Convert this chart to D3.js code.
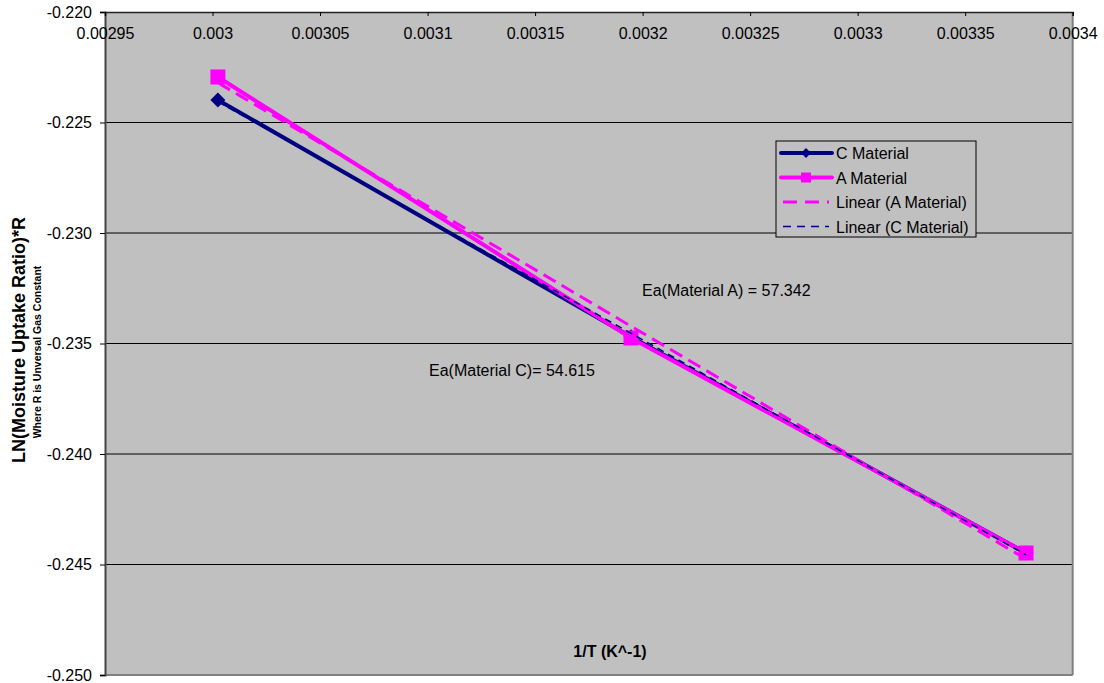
<!DOCTYPE html>
<html><head><meta charset="utf-8">
<script src="https://cdn.jsdelivr.net/npm/d3@7"></script>
<style>
body{margin:0;background:#fff;}
text{font-family:"Liberation Sans",Arial,sans-serif;}
</style></head>
<body>
<svg id="chart" width="1104" height="683"></svg>
<script>
const xTicks = [0.00295,0.003,0.00305,0.0031,0.00315,0.0032,0.00325,0.0033,0.00335,0.0034];
const xTickLabels = ["0.00295","0.003","0.00305","0.0031","0.00315","0.0032","0.00325","0.0033","0.00335","0.0034"];
const yTicks = [-0.220,-0.225,-0.230,-0.235,-0.240,-0.245,-0.250];
const yTickLabels = ["-0.220","-0.225","-0.230","-0.235","-0.240","-0.245","-0.250"];
const cX = [0.0030025, 0.0031946, 0.0033783];
const cY = [-0.22398, -0.23470, -0.24448];
const aX = [0.0030025, 0.0031946, 0.0033783];
const aY = [-0.22294, -0.23475, -0.24448];
const annotations = ["Ea(Material A) = 57.342", "Ea(Material C)= 54.615"];

const svg = d3.select("#chart");
const L=105, R=1072.7, T=12, B=675;
const x = d3.scaleLinear().domain([0.00295,0.0034]).range([L,R]);
const y = d3.scaleLinear().domain([-0.220,-0.250]).range([T,B]);
const FONT = "Liberation Sans, Arial, sans-serif";

svg.append("rect").attr("x",L).attr("y",T).attr("width",R-L).attr("height",B-T).attr("fill","#C0C0C0");
svg.append("g").selectAll("line").data(yTicks.slice(1,-1)).join("line")
  .attr("x1",L).attr("x2",R).attr("y1",d=>y(d)).attr("y2",d=>y(d)).attr("stroke","#000").attr("stroke-width",1);
svg.append("line").attr("x1",R).attr("x2",R).attr("y1",T).attr("y2",B).attr("stroke","#808080").attr("stroke-width",2);
svg.append("line").attr("x1",L).attr("x2",R).attr("y1",B).attr("y2",B).attr("stroke","#808080").attr("stroke-width",2);

const yAxis = d3.axisLeft(y).tickValues(yTicks).tickFormat((d,i)=>yTickLabels[i]).tickSize(5).tickPadding(8);
const gy = svg.append("g").attr("transform",`translate(${L},0)`).call(yAxis);
gy.select(".domain").attr("stroke","#444").attr("stroke-width",2);
gy.selectAll(".tick line").attr("stroke","#000");
gy.selectAll("text").attr("font-size",16).attr("fill","#000").attr("font-family",FONT);

const xAxis = d3.axisBottom(x).tickValues(xTicks).tickFormat((d,i)=>xTickLabels[i]).tickSize(4).tickPadding(12);
const gx = svg.append("g").attr("transform",`translate(0,${T})`).call(xAxis);
gx.select(".domain").attr("stroke","#222").attr("stroke-width",1.5);
gx.selectAll(".tick line").attr("stroke","#000");
gx.selectAll("text").attr("font-size",16).attr("fill","#000").attr("font-family",FONT);

function regress(xs, ys){
  const n=xs.length, mx=d3.mean(xs), my=d3.mean(ys);
  let sxy=0,sxx=0;
  for(let i=0;i<n;i++){sxy+=(xs[i]-mx)*(ys[i]-my);sxx+=(xs[i]-mx)**2;}
  const m=sxy/sxx, b=my-m*mx;
  const x0=d3.min(xs), x1=d3.max(xs);
  return [[x0,m*x0+b],[x1,m*x1+b]];
}
const line = d3.line().x(d=>x(d[0])).y(d=>y(d[1]));
const cPts = cX.map((v,i)=>[v,cY[i]]);
const aPts = aX.map((v,i)=>[v,aY[i]]);
const diamond = r => `M0,${-r}L${r},0L0,${r}L${-r},0Z`;

svg.append("path").datum(cPts).attr("d",line).attr("fill","none").attr("stroke","#000080").attr("stroke-width",4);
svg.append("g").selectAll("path").data(cPts).join("path")
  .attr("d",diamond(7.5)).attr("transform",d=>`translate(${x(d[0])},${y(d[1])})`).attr("fill","#000080");
svg.append("path").datum(aPts).attr("d",line).attr("fill","none").attr("stroke","#FF00FF").attr("stroke-width",4);
svg.append("g").selectAll("rect").data(aPts).join("rect")
  .attr("x",d=>x(d[0])-7.5).attr("y",d=>y(d[1])-7.5).attr("width",15).attr("height",15).attr("fill","#FF00FF");
svg.append("path").datum(regress(aX,aY)).attr("d",line).attr("fill","none").attr("stroke","#FF00FF").attr("stroke-width",3).attr("stroke-dasharray","14,7");
svg.append("path").datum(regress(cX,cY)).attr("d",line).attr("fill","none").attr("stroke","#000080").attr("stroke-width",1.5).attr("stroke-dasharray","7,5");

svg.append("text").attr("x",642).attr("y",296).attr("font-size",16).text(annotations[0]);
svg.append("text").attr("x",429).attr("y",376).attr("font-size",16).text(annotations[1]);

const lg = svg.append("g");
lg.append("rect").attr("x",776).attr("y",141).attr("width",200).attr("height",96).attr("fill","#C0C0C0").attr("stroke","#000").attr("stroke-width",1);
const legendItems = [
  {label:"C Material", color:"#000080", w:4, dash:null, marker:"diamond"},
  {label:"A Material", color:"#FF00FF", w:4, dash:null, marker:"square"},
  {label:"Linear (A Material)", color:"#FF00FF", w:3, dash:"14,8", marker:null},
  {label:"Linear (C Material)", color:"#000080", w:1.5, dash:"8,6", marker:null}
];
legendItems.forEach((it,i)=>{
  const yy = 153 + i*24.5;
  const ln = lg.append("line").attr("x1",781).attr("x2",832).attr("y1",yy).attr("y2",yy)
    .attr("stroke",it.color).attr("stroke-width",it.w);
  if(it.dash){ ln.attr("stroke-dasharray",it.dash).attr("x1",783).attr("x2",829); }
  else ln.attr("stroke-linecap","round");
  if(it.marker==="diamond") lg.append("path").attr("d",diamond(5)).attr("transform",`translate(806,${yy})`).attr("fill",it.color);
  if(it.marker==="square") lg.append("rect").attr("x",801).attr("y",yy-5).attr("width",10).attr("height",10).attr("fill",it.color);
  lg.append("text").attr("x",836).attr("y",yy+6).attr("font-size",16).text(it.label);
});

svg.append("text").attr("x",610).attr("y",657).attr("text-anchor","middle").attr("font-size",16).attr("font-weight","bold").text("1/T (K^-1)");
svg.append("text").attr("transform","translate(25,340) rotate(-90)").attr("text-anchor","middle").attr("font-size",18).attr("font-weight","bold").text("LN(Moisture Uptake Ratio)*R");
svg.append("text").attr("transform","translate(41,352) rotate(-90)").attr("text-anchor","middle").attr("font-size",10.5).attr("font-weight","bold").text("Where R is Unversal Gas Constant");
</script>
</body></html>
